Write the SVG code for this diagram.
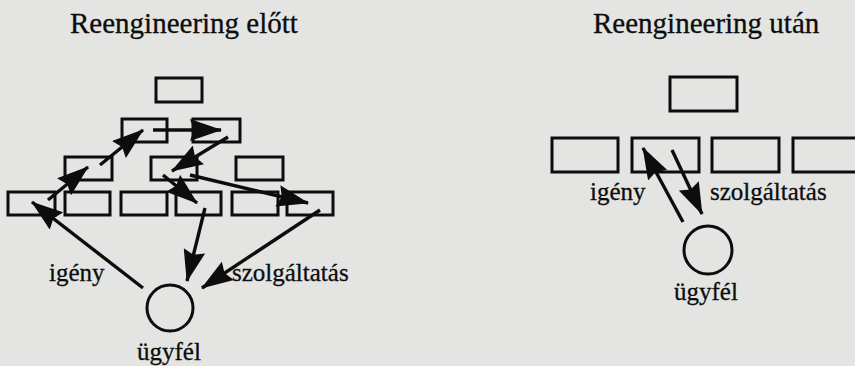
<svg xmlns="http://www.w3.org/2000/svg" width="855" height="366" viewBox="0 0 855 366">
<style>
.bg{fill:#e4e4e2}
.box{fill:none;stroke:#0d0d0d;stroke-width:3}
.node{fill:none;stroke:#0d0d0d;stroke-width:3}
.t{font-family:"Liberation Serif","Times New Roman",serif;fill:#0d0d0d;stroke:#0d0d0d;stroke-width:0.3}
.title{font-size:29px}
.lbl{font-size:25px}
.conn line{stroke:#0d0d0d;stroke-width:3.4}
</style>
<defs>
<marker id="ah" viewBox="0 0 32 22" refX="31" refY="11" markerWidth="32" markerHeight="22" markerUnits="userSpaceOnUse" orient="auto">
<path d="M0,0 L32,11 L0,22 L4,11 z" fill="#0d0d0d"/>
</marker>
</defs>
<rect class="bg" x="0" y="0" width="855" height="366"/>

<g id="before">
<text class="t title" x="70" y="33">Reengineering előtt</text>
<g id="b-top"><rect class="box" x="156" y="78" width="46" height="24"/></g>
<g id="b-a"><rect class="box" x="122" y="119" width="45" height="23"/></g>
<g id="b-b"><rect class="box" x="193" y="119" width="47" height="23"/></g>
<g id="b-c"><rect class="box" x="65" y="157" width="47" height="23"/></g>
<g id="b-d"><rect class="box" x="151" y="157" width="46" height="23"/></g>
<g id="b-e"><rect class="box" x="236" y="157" width="47" height="23"/></g>
<g id="b-r1"><rect class="box" x="8" y="192" width="47" height="23"/></g>
<g id="b-r2"><rect class="box" x="65" y="192" width="45" height="23"/></g>
<g id="b-r3"><rect class="box" x="121" y="192" width="46" height="23"/></g>
<g id="b-r4"><rect class="box" x="176" y="192" width="45" height="23"/></g>
<g id="b-r5"><rect class="box" x="232" y="192" width="46" height="23"/></g>
<g id="b-r6"><rect class="box" x="287" y="192" width="46" height="23"/></g>
<g id="b-client">
<circle class="node" cx="170" cy="308" r="23"/>
<text class="t lbl" x="137" y="360">ügyfél</text>
</g>
<text class="t lbl" x="49" y="281">igény</text>
<text class="t lbl" x="232" y="281">szolgáltatás</text>
</g>

<g id="after">
<text class="t title" x="593" y="33">Reengineering után</text>
<g id="a-top"><rect class="box" x="670" y="77" width="67" height="34"/></g>
<g id="a-r1"><rect class="box" x="552" y="138" width="66" height="34"/></g>
<g id="a-r2"><rect class="box" x="632" y="138" width="67" height="34"/></g>
<g id="a-r3"><rect class="box" x="712" y="138" width="67" height="34"/></g>
<g id="a-r4"><rect class="box" x="793" y="138" width="70" height="34"/></g>
<g id="a-client">
<circle class="node" cx="708" cy="250" r="24"/>
<text class="t lbl" x="674" y="300">ügyfél</text>
</g>
<text class="t lbl" x="590" y="200">igény</text>
<text class="t lbl" x="710" y="200">szolgáltatás</text>
</g>

<g id="connectors" class="conn">
<line x1="48" y1="200" x2="88" y2="167" marker-end="url(#ah)"/>
<line x1="100" y1="165" x2="143" y2="130" marker-end="url(#ah)"/>
<line x1="153" y1="130" x2="221" y2="130" marker-end="url(#ah)"/>
<line x1="228" y1="137" x2="172" y2="171" marker-end="url(#ah)"/>
<line x1="190" y1="175" x2="308" y2="203" marker-end="url(#ah)"/>
<line x1="163" y1="175" x2="197" y2="203" marker-end="url(#ah)"/>
<line x1="205" y1="208" x2="187" y2="281" marker-end="url(#ah)"/>
<line x1="320" y1="210" x2="202" y2="288" marker-end="url(#ah)"/>
<line x1="143" y1="288" x2="32" y2="202" marker-end="url(#ah)"/>
<line x1="683" y1="222" x2="643" y2="148" marker-end="url(#ah)"/>
<line x1="672" y1="150" x2="702" y2="214" marker-end="url(#ah)"/>
</g>
</svg>
